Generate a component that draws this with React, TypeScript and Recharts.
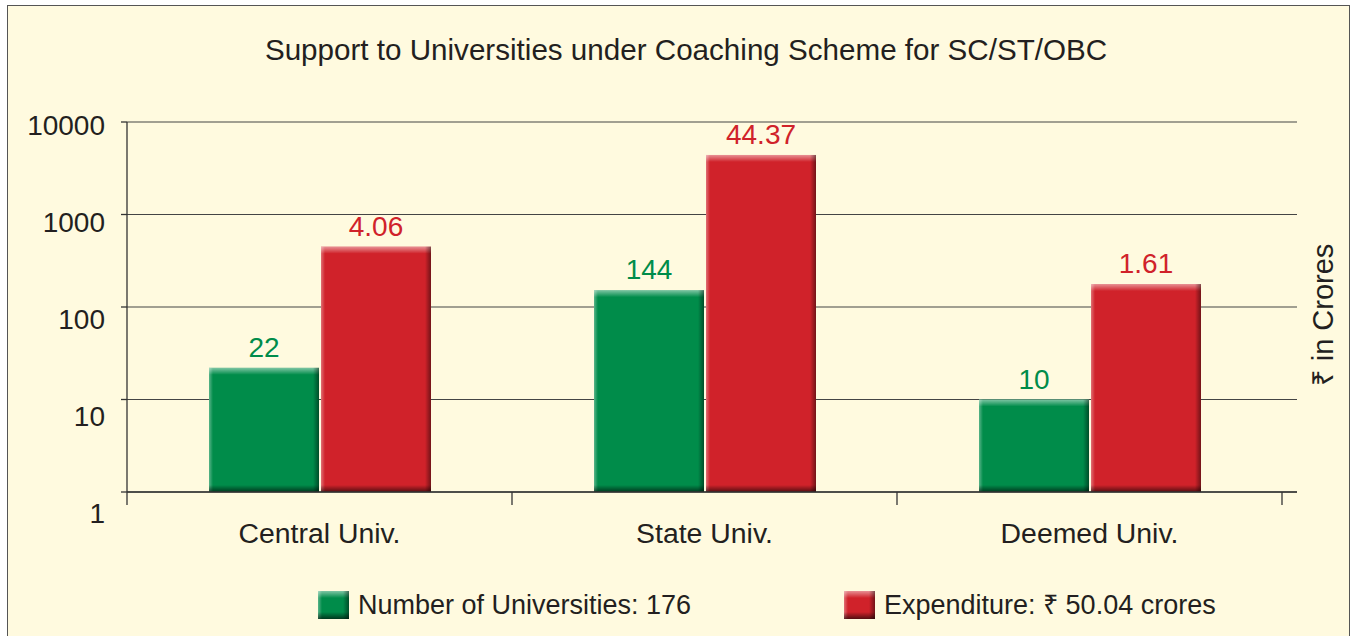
import { BarChart, Bar, XAxis, YAxis, CartesianGrid, LabelList } from 'recharts';

const categories = ['Central Univ.', 'State Univ.', 'Deemed Univ.'];
// number of universities (label text) and the bar heights
const universityLabels = [22, 144, 10];
const universityHeights = [22, 152, 10];
// expenditure in crores (label text) and the bar heights
const expenditureLabels = ['4.06', '44.37', '1.61'];
const expenditureHeights = [449, 4400, 177];
const yTicks = [1, 10, 100, 1000, 10000];

const FONT = '"Liberation Sans", Arial, Helvetica, sans-serif';
const TEXT = '#231f20';
const BG = '#fffadf';
const GREEN = '#008c4a';
const RED = '#d0222a';

const data = categories.map((name, i) => ({
    name,
    universities: universityHeights[i],
    universityLabel: universityLabels[i],
    expenditure: expenditureHeights[i],
    expenditureLabel: expenditureLabels[i],
}));

const bandWidth = (1282 - 127) / categories.length;

function BevelBar(props: any) {
    const { x, y, width, height, fill } = props;
    if (!height || height <= 0) return null;
    return (
        <g>
            <rect x={x} y={y} width={width} height={height} fill={fill} />
            <rect x={x} y={y} width={width} height={7} fill="url(#hiTop)" />
            <rect x={x} y={y} width={4} height={height} fill="url(#hiLeft)" />
            <rect x={x + width - 6} y={y} width={6} height={height} fill="url(#shRight)" />
            <rect x={x} y={y + height - 7} width={width} height={7} fill="url(#shBottom)" />
        </g>
    );
}

function YTick(props: any) {
    const { x, y, payload } = props;
    const shift = 3 + (4 - Math.log10(payload.value)) * 4.5;
    return (
        <text x={x} y={y + shift} dy="0.36em" textAnchor="end" fontSize={28} fill={TEXT} fontFamily={FONT}>
            {payload.value}
        </text>
    );
}

function XTick(props: any) {
    const { x, y, payload, index } = props;
    const left = x - bandWidth / 2;
    const right = x + bandWidth / 2;
    return (
        <g>
            <line x1={left} x2={left} y1={y} y2={y + 13} stroke="#333" strokeWidth={1.3} />
            {index === categories.length - 1 && (
                <line x1={right} x2={right} y1={y} y2={y + 13} stroke="#333" strokeWidth={1.3} />
            )}
            <text x={x} y={y + 41} dy="0.36em" textAnchor="middle" fontSize={28.4} fill={TEXT} fontFamily={FONT}>
                {payload.value}
            </text>
        </g>
    );
}

function LegendSwatch({ color }: { color: string }) {
    return (
        <svg width={31} height={28} style={{ display: 'block' }}>
            <BevelBar x={0} y={0} width={31} height={28} fill={color} />
        </svg>
    );
}

export default function App() {
    return (
        <div style={{ position: 'absolute', left: 0, top: 0, width: 1354, height: 636, overflow: 'hidden', fontFamily: FONT, color: TEXT }}>
            <div style={{ position: 'absolute', left: 7, top: 5, width: 1341, height: 660, border: '1.5px solid #555', background: BG }} />
            <svg width={0} height={0} style={{ position: 'absolute' }}>
                <defs>
                    <linearGradient id="hiTop" x1="0" y1="0" x2="0" y2="1">
                        <stop offset="0%" stopColor="#fff" stopOpacity={0.5} />
                        <stop offset="100%" stopColor="#fff" stopOpacity={0} />
                    </linearGradient>
                    <linearGradient id="hiLeft" x1="0" y1="0" x2="1" y2="0">
                        <stop offset="0%" stopColor="#fff" stopOpacity={0.35} />
                        <stop offset="100%" stopColor="#fff" stopOpacity={0} />
                    </linearGradient>
                    <linearGradient id="shRight" x1="0" y1="0" x2="1" y2="0">
                        <stop offset="0%" stopColor="#000" stopOpacity={0} />
                        <stop offset="100%" stopColor="#000" stopOpacity={0.45} />
                    </linearGradient>
                    <linearGradient id="shBottom" x1="0" y1="0" x2="0" y2="1">
                        <stop offset="0%" stopColor="#000" stopOpacity={0} />
                        <stop offset="100%" stopColor="#000" stopOpacity={0.6} />
                    </linearGradient>
                </defs>
            </svg>
            <div style={{ position: 'absolute', left: 686, top: 50, transform: 'translate(-50%, -50%)', fontSize: 29.6, whiteSpace: 'nowrap' }}>
                Support to Universities under Coaching Scheme for SC/ST/OBC
            </div>
            <div style={{ position: 'absolute', left: 0, top: 0 }}>
                <BarChart
                    width={1354}
                    height={636}
                    data={data}
                    margin={{ top: 122, right: 57, left: 27, bottom: 94 }}
                    barGap={2}
                    barSize={110}
                >
                    <CartesianGrid vertical={false} stroke="#444" strokeWidth={1.2} />
                    <XAxis
                        dataKey="name"
                        height={50}
                        padding={{ left: 0, right: 15 }}
                        axisLine={{ stroke: '#333', strokeWidth: 1.3 }}
                        tickLine={false}
                        tickSize={0}
                        tickMargin={0}
                        tick={<XTick />}
                        interval={0}
                    />
                    <YAxis
                        scale="log"
                        type="number"
                        domain={[1, 10000]}
                        ticks={yTicks}
                        allowDataOverflow
                        width={100}
                        axisLine={{ stroke: '#333', strokeWidth: 1.3 }}
                        tickLine={{ stroke: '#333', strokeWidth: 1.3 }}
                        tickSize={6}
                        tickMargin={16}
                        tick={<YTick />}
                        interval={0}
                    />
                    <Bar dataKey="universities" fill={GREEN} shape={<BevelBar />} isAnimationActive={false}>
                        <LabelList dataKey="universityLabel" position="top" offset={11} fill={GREEN} fontSize={28} fontFamily={FONT} />
                    </Bar>
                    <Bar dataKey="expenditure" fill={RED} shape={<BevelBar />} isAnimationActive={false}>
                        <LabelList dataKey="expenditureLabel" position="top" offset={11} fill={RED} fontSize={28} fontFamily={FONT} />
                    </Bar>
                </BarChart>
            </div>
            <div style={{ position: 'absolute', left: 1323, top: 315, transform: 'translate(-50%, -50%) rotate(-90deg)', fontSize: 29, lineHeight: '32px', whiteSpace: 'nowrap' }}>
                ₹ in Crores
            </div>
            <div style={{ position: 'absolute', left: 318, top: 591, display: 'flex', alignItems: 'center', gap: 9, fontSize: 27, whiteSpace: 'nowrap' }}>
                <LegendSwatch color={GREEN} />
                <span style={{ lineHeight: '28px' }}>Number of Universities: 176</span>
            </div>
            <div style={{ position: 'absolute', left: 844, top: 591, display: 'flex', alignItems: 'center', gap: 9, fontSize: 27, whiteSpace: 'nowrap' }}>
                <LegendSwatch color={RED} />
                <span style={{ lineHeight: '28px' }}>Expenditure: ₹ 50.04 crores</span>
            </div>
        </div>
    );
}
